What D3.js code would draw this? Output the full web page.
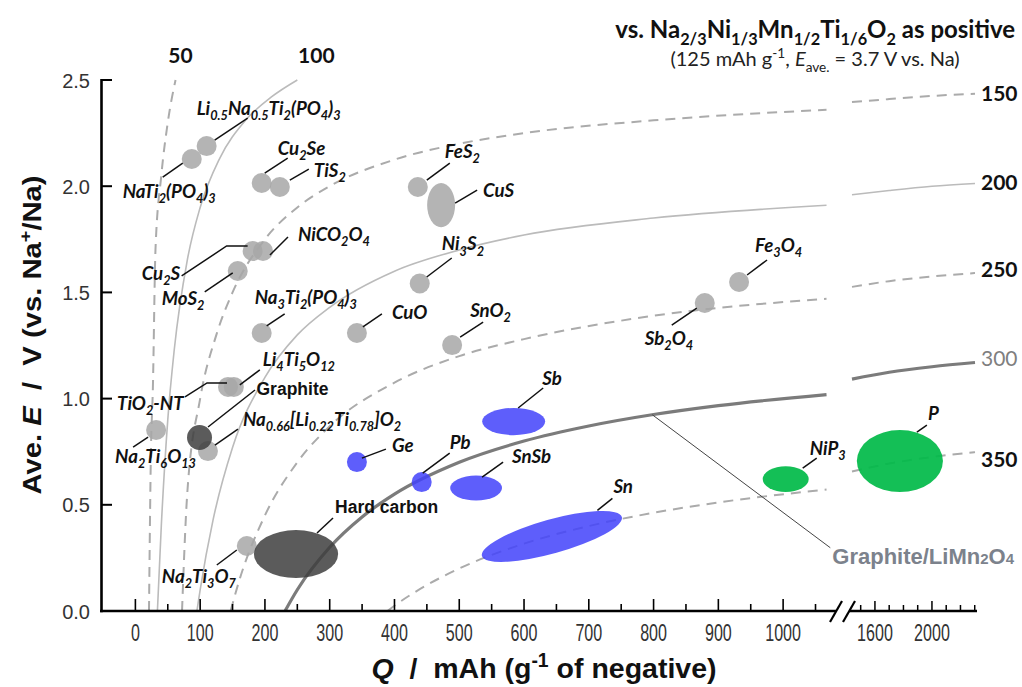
<!DOCTYPE html>
<html><head><meta charset="utf-8">
<script src="https://cdn.jsdelivr.net/npm/d3@7"></script>
<style>
body{margin:0;background:#fff;}
svg{display:block;}
</style></head>
<body><svg id="chart" width="1022" height="687"></svg>
<script>
// ================= DATA =================
const yTickValues = [0.0, 0.5, 1.0, 1.5, 2.0, 2.5];
const xMajorLeft = [0,100,200,300,400,500,600,700,800,900,1000];
const xMinorLeft = [50,150,250,350,450,550,650,750,850,950,1050];
const xTicksRight = [1500,1600,1700,1800,1900,2000,2100,2200,2300];
const xLabelsRight = [1600, 2000];

// iso-energy-density lines (Wh/kg of full cell): [Q, E]
const isoLevels = [50, 100, 150, 200, 250, 300, 350];
const iso50  = [[21,0],[24,0.75],[27,1.05],[31,1.70],[40,2.05],[50,2.30],[62,2.50]];
const iso100 = [[34,0],[40,0.40],[50,0.90],[60,1.23],[80,1.65],[100,1.90],[130,2.13],[170,2.31],[210,2.42],[250,2.50]];
const iso150 = [[72,0],[80,0.55],[100,1.0],[125,1.30],[150,1.50],[200,1.75],[250,1.90],[300,2.0],[400,2.125],[500,2.20],[600,2.25],[800,2.31],[1067,2.36],
                [1439,2.396],[1700,2.41],[2000,2.425],[2302,2.435]];
const iso200 = [[95,0],[100,0.10],[120,0.43],[150,0.77],[200,1.10],[250,1.30],[300,1.43],[400,1.60],[500,1.70],[600,1.77],[800,1.85],[1067,1.91],
                [1439,1.96],[1700,1.98],[2000,2.0],[2302,2.013]];
const iso250 = [[147,0],[160,0.14],[200,0.45],[250,0.70],[300,0.87],[400,1.075],[500,1.20],[600,1.28],[800,1.39],[1067,1.47],
                [1439,1.526],[1700,1.553],[2000,1.575],[2302,1.591]];
const iso300 = [[231,0],[250,0.10],[300,0.30],[350,0.443],[400,0.55],[500,0.70],[600,0.80],[700,0.871],[800,0.925],[900,0.967],[1067,1.019],
                [1439,1.092],[1700,1.124],[2000,1.15],[2302,1.17]];
const iso350 = [[389,0],[400,0.025],[450,0.122],[500,0.20],[600,0.317],[700,0.40],[800,0.4625],[900,0.511],[1067,0.572],
                [1439,0.657],[1700,0.694],[2000,0.725],[2302,0.748]];
const isoSeries = [iso50, iso100, iso150, iso200, iso250, iso300, iso350];

// negative electrode materials
const materials = [
 "NaTi_{2}(PO_{4})_{3}", "Li_{0.5}Na_{0.5}Ti_{2}(PO_{4})_{3}", "Cu_{2}Se", "TiS_{2}", "Cu_{2}S", "NiCO_{2}O_{4}",
 "MoS_{2}", "Na_{3}Ti_{2}(PO_{4})_{3}", "CuO", "TiO_{2}-NT", "Li_{4}Ti_{5}O_{12}", "Na_{2}Ti_{6}O_{13}",
 "Na_{0.66}[Li_{0.22}Ti_{0.78}]O_{2}", "Graphite", "Na_{2}Ti_{3}O_{7}", "Hard carbon", "FeS_{2}", "CuS",
 "Ni_{3}S_{2}", "SnO_{2}", "Sb_{2}O_{4}", "Fe_{3}O_{4}", "Ge", "Pb", "SnSb", "Sb", "Sn", "NiP_{3}", "P"];
const capacity = [87, 110, 195, 223, 181, 197, 158, 195, 342, 143, 152, 32,
                  112, 99, 172, 248, 436, 472, 439, 489, 879, 932, 342, 442, 526, 584, 643, 1004, 1775];
const voltage  = [2.128, 2.189, 2.015, 1.996, 1.695, 1.695, 1.601, 1.309, 1.309, 1.055, 1.055, 0.852,
                  0.753, 0.817, 0.306, 0.268, 1.996, 1.911, 1.542, 1.252, 1.45, 1.549, 0.701, 0.607, 0.579, 0.892, 0.351, 0.621, 0.706];
// half ranges (capacity, voltage) for materials drawn as regions; 0 = single point
const capRange = [0,0,0,0,0,0,0,0,0,0,0,0, 0,0,0,65,0,21.6, 0,0,0,0,0,0,40,48.6,0,35.5,302];
const voltRange= [0,0,0,0,0,0,0,0,0,0,0,0, 0,0,0,0.113,0,0.104, 0,0,0,0,0,0,0.059,0.064,0,0.061,0.146];
const family = ["ins","ins","ins","ins","ins","ins","ins","ins","ins","ins","ins","ins",
                "ins","carbon","ins","carbon","ins","ins","ins","ins","ins","ins","alloy","alloy","alloy","alloy","alloy","phos","phos"];
// Sn region: elongated along the 350 line
const snAxisQ = [535, 751];
const snAxisE = [0.259, 0.443];
const snHalfWidthE = 0.08;
// Graphite/LiMn2O4 reference point on the 300 line
const refQ = 798, refE = 0.924;

// ================= LAYOUT / STYLE =================
const W = 1022, H = 687;
const xL = d3.scaleLinear().domain([-50, 1077]).range([103, 833]);
const xR = d3.scaleLinear().domain([1411, 2316]).range([848, 977]);
const y  = d3.scaleLinear().domain([0, 2.5]).range([611, 80]);
const xOf = q => q <= 1100 ? xL(q) : xR(q);

const famStyle = {
  ins:    {fill: "rgb(167,167,167)", op: 0.85, r: 10},
  carbon: {fill: "rgb(62,62,62)", op: 0.85, r: 12.5},
  alloy:  {fill: "rgb(66,66,250)", op: 0.85, r: 10},
  phos:   {fill: "rgb(0,186,72)", op: 0.92, r: 10}
};
const isoStyle = {
  50: {dash: "10,7", color: "#ababab", w: 2},
  100:{dash: null, color: "#bbbbbb", w: 1.6},
  150:{dash: "10,7", color: "#ababab", w: 2},
  200:{dash: null, color: "#bbbbbb", w: 1.6},
  250:{dash: "10,7", color: "#ababab", w: 2},
  300:{dash: null, color: "#7b7b7b", w: 3.2},
  350:{dash: "10,7", color: "#ababab", w: 2}
};
// label offsets [dx, dy, leader polyline offsets] relative to marker centre
const labelLayout = [
 [-69,39,[[-29,18],[-9,4]]], [-10,-31,[[8,-6],[41,-28]]], [16,-28,[[3,-10],[26,-25]]], [34,-10,[[10,-7],[29,-18]]],
 [-111,29,[[-71,25],[-26,-5],[-5,-5]]], [35,-10,[[7,4],[25,-14]]], [-76,34,[[-33,21],[-5,2]]], [-7,-29,[[5,-7],[23,-19]]],
 [35,-14,[[6,-6],[25,-19]]], [-111,23,[[-43,10],[-21,-4],[-1,-4]]], [29,-21,[[6,-2],[26,-17]]], [-41,33,[[-23,17],[-8,7]]],
 [35,-25,[[7,-6],[30,-22]]], [57,-42,[[8.5,-10.5],[55.5,-47.5]]], [-85,37,[[-30,19],[-10,4]]], [39,-41,[[21,-21],[37,-36]]],
 [27,-29,[[9,-7],[32,-24]]], [42,-8,[[14,-2],[36,-15]]], [22,-33,[[7,-6.5],[32,-25.5]]], [18,-28,[[8,-8],[31,-23]]],
 [-60,42,[[-33,22],[-8,5]]], [16,-30,[[8,-7],[28,-22]]], [35,-10,[[5,-4],[29,-13]]], [28,-33,[[1,-9],[28,-29]]],
 [36,-25,[[6,-11],[27,-26]]], [28.5,-36.5,[[4.5,-13.5],[29.5,-33.5]]], [61.5,-43,[[45.5,-26],[60.5,-38]]],
 [24,-24,[[17,-11],[31,-21]]], [28,-41,[[17,-29],[27,-36]]]
];
const uprightLabels = ["Graphite", "Hard carbon"];
const LABEL_FONT = "Lato, 'Open Sans', 'Noto Sans', sans-serif";
const AXIS_FONT = "'Liberation Sans', Arial, sans-serif";

const svg = d3.select("#chart");
svg.append("rect").attr("width", W).attr("height", H).attr("fill", "#fff");

function rich(sel, str, size) {
  const parts = str.split(/(_\{[^}]*\}|\^\{[^}]*\}|\*\{[^}]*\})/).filter(s => s !== "");
  let shift = 0;
  parts.forEach(p => {
    let t = p, s = 0, fs = size, it = false;
    if (p.startsWith("_{")) { t = p.slice(2, -1); s = size * 0.28; fs = size * 0.68; }
    else if (p.startsWith("^{")) { t = p.slice(2, -1); s = -size * 0.4; fs = size * 0.68; }
    else if (p.startsWith("*{")) { t = p.slice(2, -1); it = true; }
    const ts = sel.append("tspan").text(t).attr("font-size", fs);
    if (s - shift !== 0) ts.attr("dy", s - shift);
    if (it) ts.attr("font-style", "italic");
    shift = s;
  });
}

// ================= ISO LINES =================
const lineGen = d3.line().x(d => xOf(d[0])).y(d => y(d[1])).curve(d3.curveMonotoneX);
const gIso = svg.append("g");
isoSeries.forEach((ser, i) => {
  const st = isoStyle[isoLevels[i]];
  const left = ser.filter(d => d[0] <= 1100);
  const right = ser.filter(d => d[0] > 1100);
  [left, right].forEach(seg => {
    if (seg.length < 2) return;
    const p = gIso.append("path").attr("d", lineGen(seg)).attr("fill", "none")
      .attr("stroke", st.color).attr("stroke-width", st.w);
    if (st.dash) p.attr("stroke-dasharray", st.dash);
  });
});

// ================= MARKERS =================
const gM = svg.append("g");
materials.forEach((m, i) => {
  const st = famStyle[family[i]];
  const cx = xOf(capacity[i]), cy = y(voltage[i]);
  if (m === "Sn") {
    const x1 = xOf(snAxisQ[0]), y1 = y(snAxisE[0]), x2 = xOf(snAxisQ[1]), y2 = y(snAxisE[1]);
    const ang = Math.atan2(y2 - y1, x2 - x1) * 180 / Math.PI;
    const rx = Math.hypot(x2 - x1, y2 - y1) / 2;
    const ry = y(0) - y(snHalfWidthE);
    gM.append("ellipse").attr("cx", (x1 + x2) / 2).attr("cy", (y1 + y2) / 2).attr("rx", rx).attr("ry", ry)
      .attr("transform", `rotate(${ang},${(x1 + x2) / 2},${(y1 + y2) / 2})`)
      .attr("fill", st.fill).attr("fill-opacity", st.op);
  } else if (capRange[i] > 0) {
    const rx = Math.abs(xOf(capacity[i] + capRange[i]) - cx);
    const ry = Math.abs(y(voltage[i] + voltRange[i]) - cy);
    gM.append("ellipse").attr("cx", cx).attr("cy", cy).attr("rx", rx).attr("ry", ry)
      .attr("fill", st.fill).attr("fill-opacity", st.op);
  } else {
    gM.append("circle").attr("cx", cx).attr("cy", cy).attr("r", st.r)
      .attr("fill", st.fill).attr("fill-opacity", st.op);
  }
});

// ================= LABELS =================
const gL = svg.append("g");
materials.forEach((m, i) => {
  const cx = xOf(capacity[i]), cy = y(voltage[i]);
  const [dx, dy, pts] = labelLayout[i];
  gL.append("polyline").attr("points", pts.map(p => `${cx + p[0]},${cy + p[1]}`).join(" "))
    .attr("fill", "none").attr("stroke", "#111").attr("stroke-width", 1.5);
  const upright = uprightLabels.includes(m);
  const t = gL.append("text").attr("x", cx + dx).attr("y", cy + dy)
    .attr("font-family", upright ? AXIS_FONT : LABEL_FONT).attr("font-weight", "bold")
    .attr("font-style", upright ? "normal" : "italic").attr("fill", "#111");
  rich(t, m, upright ? 17.5 : 18.7);
});

// Graphite / LiMn2O4 reference
{
  const px = xOf(refQ), py = y(refE);
  gL.append("line").attr("x1", px).attr("y1", py).attr("x2", px + 178).attr("y2", py + 133)
    .attr("stroke", "#444").attr("stroke-width", 1);
  const t = gL.append("text").attr("x", px + 180).attr("y", py + 149)
    .attr("font-family", AXIS_FONT).attr("font-weight", "bold").attr("fill", "#7c828c").attr("font-size", 22);
  t.append("tspan").text("Graphite/LiMn");
  t.append("tspan").text("2").attr("font-size", 15);
  t.append("tspan").text("O");
  t.append("tspan").text("4").attr("font-size", 15);
}

// iso line labels
{
  const rightLabelDy = [null, null, 7, 7, 4, 4, 15];
  isoSeries.forEach((ser, i) => {
    const lv = isoLevels[i];
    const last = ser[ser.length - 1];
    let tx, ty, anchor = "start";
    if (last[0] > 1100) { tx = xOf(last[0]) + 6; ty = y(last[1]) + rightLabelDy[i]; }
    else { tx = xOf(last[0]) + (lv === 50 ? 5 : 19); ty = 63; anchor = "middle"; }
    gL.append("text").attr("x", tx).attr("y", ty).attr("text-anchor", anchor)
      .attr("font-family", LABEL_FONT).attr("font-size", 21)
      .attr("font-weight", lv === 300 ? "normal" : "bold")
      .attr("fill", lv === 300 ? "#7f7f7f" : "#111").text(lv);
  });
}

// ================= AXES =================
const gA = svg.append("g").attr("stroke", "#000");
gA.append("line").attr("x1", 101.5).attr("x2", 101.5).attr("y1", y(2.5) - 1).attr("y2", y(0) + 1.2).attr("stroke-width", 2.6);
yTickValues.forEach(v => gA.append("line").attr("x1", 101.5).attr("x2", 112).attr("y1", y(v)).attr("y2", y(v)).attr("stroke-width", 2));
gA.append("line").attr("x1", 100).attr("x2", 836).attr("y1", 611).attr("y2", 611).attr("stroke-width", 2.6);
gA.append("line").attr("x1", 849).attr("x2", 977).attr("y1", 611).attr("y2", 611).attr("stroke-width", 2.6);
gA.append("line").attr("x1", 830).attr("y1", 622).attr("x2", 842).attr("y2", 601).attr("stroke-width", 2.2);
gA.append("line").attr("x1", 843).attr("y1", 622).attr("x2", 855).attr("y2", 601).attr("stroke-width", 2.2);
xMajorLeft.forEach(v => gA.append("line").attr("x1", xL(v)).attr("x2", xL(v)).attr("y1", 611).attr("y2", 599).attr("stroke-width", 1.6));
xMinorLeft.forEach(v => gA.append("line").attr("x1", xL(v)).attr("x2", xL(v)).attr("y1", 611).attr("y2", 604).attr("stroke-width", 1.6));
xTicksRight.forEach(v => gA.append("line").attr("x1", xR(v)).attr("x2", xR(v)).attr("y1", 611)
  .attr("y2", xLabelsRight.includes(v) ? 601 : 605).attr("stroke-width", 1.5));

const gT = svg.append("g").attr("font-family", AXIS_FONT).attr("fill", "#333");
yTickValues.forEach(v => gT.append("text").attr("x", 90).attr("y", y(v) + 7.5).attr("text-anchor", "end")
  .attr("font-size", 20).text(v.toFixed(1)));
const xLab = xMajorLeft.map(v => [xL(v), v]).concat(xLabelsRight.map(v => [xR(v), v]));
xLab.forEach(([px, v]) => gT.append("text").attr("transform", `translate(${px},641) scale(0.7,1)`)
  .attr("text-anchor", "middle").attr("font-size", 23).text(v));

// axis titles
{
  const t = svg.append("text").attr("transform", "translate(41,335) rotate(-90) scale(1.17,1)").attr("text-anchor", "middle")
    .attr("font-family", AXIS_FONT).attr("font-weight", "bold").attr("font-size", 25).attr("fill", "#111")
    .style("white-space", "pre");
  rich(t, "Ave. *{E}  /  V (vs. Na^{+}/Na)", 25);
}
{
  const t = svg.append("text").attr("x", 544).attr("y", 678).attr("text-anchor", "middle")
    .attr("font-family", AXIS_FONT).attr("font-weight", "bold").attr("font-size", 28.5).attr("fill", "#111")
    .style("white-space", "pre");
  rich(t, "*{Q}  /  mAh (g^{-1} of negative)", 28.5);
}
// header
{
  const t = svg.append("text").attr("x", 1015).attr("y", 38).attr("text-anchor", "end")
    .attr("font-family", LABEL_FONT).attr("font-weight", "bold").attr("font-size", 24).attr("fill", "#111");
  rich(t, "vs. Na_{2/3}Ni_{1/3}Mn_{1/2}Ti_{1/6}O_{2} as positive", 24);
  const s = svg.append("text").attr("x", 815).attr("y", 66).attr("text-anchor", "middle")
    .attr("font-family", LABEL_FONT).attr("font-size", 20).attr("fill", "#222");
  rich(s, "(125 mAh g^{-1}, *{E}_{ave.} = 3.7 V vs. Na)", 20);
}
</script>
</body></html>
